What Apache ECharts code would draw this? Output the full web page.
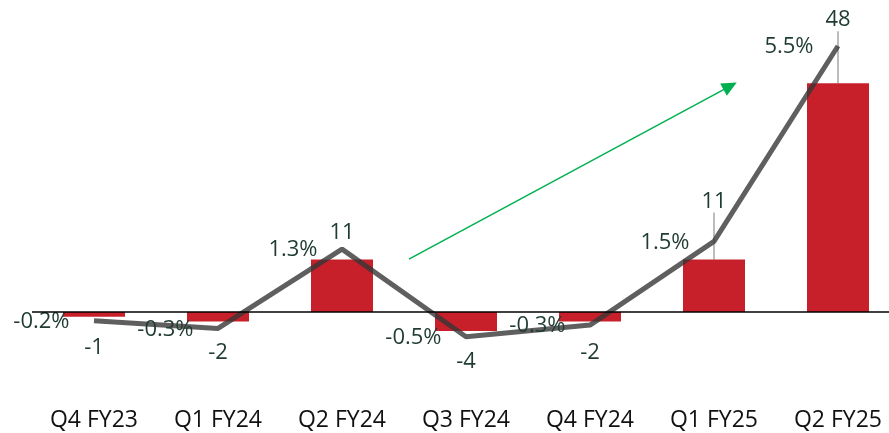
<!DOCTYPE html>
<html>
<head>
<meta charset="utf-8">
<script src="https://cdn.jsdelivr.net/npm/echarts@6/dist/echarts.min.js"></script>
<style>
html,body{margin:0;padding:0;background:#fff;}
#c{width:889px;height:433px;}
</style>
</head>
<body>
<div id="c"></div>
<script>
// ---- data ----
var categories = ['Q4 FY23', 'Q1 FY24', 'Q2 FY24', 'Q3 FY24', 'Q4 FY24', 'Q1 FY25', 'Q2 FY25'];
var barValues = [-1, -2, 11, -4, -2, 11, 48];
var pctValues = [-0.18, -0.34, 1.3, -0.51, -0.27, 1.46, 5.5];
// trend arrow (on hidden value x-axis aligned with categories, left y-axis)
var arrowStart = [2.54, 11.1];
var arrowEnd = [5.13, 47.4];

// ---- layout helpers ----
var leftMin = -10, leftMax = 60;
var unitsPerPct = 10.145;
var rightMin = leftMin / unitsPerPct, rightMax = leftMax / unitsPerPct;
var barLabelDy = [15, 15, -11, 15, 15, -42, -47];
var leaderIdx = [5, 6];
var textColor = '#1f3b33';
var font = 'Open Sans';

var chart = echarts.init(document.getElementById('c'));
chart.setOption({
  animation: false,
  grid: {left: 32, top: 26, width: 868, height: 333.7, containLabel: false, outerBoundsMode: 'none'},
  xAxis: [{
    type: 'category',
    data: categories,
    axisLine: {show: false, onZero: false},
    axisTick: {show: false},
    axisLabel: {margin: 49, fontSize: 23, fontFamily: font, color: '#111'},
    splitLine: {show: false}
  }, {
    type: 'value', min: -0.5, max: 6.5, show: false
  }],
  yAxis: [
    {type: 'value', min: leftMin, max: leftMax, show: false, splitLine: {show: false}},
    {type: 'value', min: rightMin, max: rightMax, show: false, splitLine: {show: false}}
  ],
  series: [{
    type: 'bar',
    barWidth: '50%',
    itemStyle: {color: '#c8202b'},
    data: barValues.map(function (v, i) {
      return {
        value: v,
        label: {position: v >= 0 ? 'top' : 'bottom'},
        labelLine: {show: leaderIdx.indexOf(i) >= 0}
      };
    }),
    label: {show: true, fontSize: 22, fontFamily: font, color: textColor, distance: 5},
    labelLayout: function (p) { return {dy: barLabelDy[p.dataIndex]}; },
    labelLine: {lineStyle: {color: '#a6a6a6', width: 1.5}},
    markLine: {
      silent: true,
      symbol: ['none', 'none'],
      label: {show: false},
      lineStyle: {color: '#000', width: 1.5, type: 'solid'},
      data: [{yAxis: 0}]
    },
    z: 2
  }, {
    type: 'line',
    yAxisIndex: 1,
    data: pctValues,
    symbol: 'circle',
    symbolSize: 1,
    itemStyle: {color: 'rgba(0,0,0,0)'},
    lineStyle: {color: 'rgba(55,55,55,0.8)', width: 5},
    label: {
      show: true, position: 'left', distance: 24, offset: [0, 1],
      fontSize: 22, fontFamily: font, color: textColor,
      formatter: function (p) { return p.value.toFixed(1) + '%'; }
    },
    z: 3
  }, {
    type: 'scatter',
    xAxisIndex: 1,
    yAxisIndex: 0,
    symbolSize: 0,
    data: [arrowStart],
    silent: true,
    markLine: {
      silent: true,
      symbol: ['none', 'triangle'],
      symbolSize: [14, 15],
      label: {show: false},
      lineStyle: {color: '#00b050', width: 1.5, type: 'solid'},
      data: [[{coord: arrowStart}, {coord: arrowEnd}]]
    },
    z: 4
  }]
});
</script>
</body>
</html>
